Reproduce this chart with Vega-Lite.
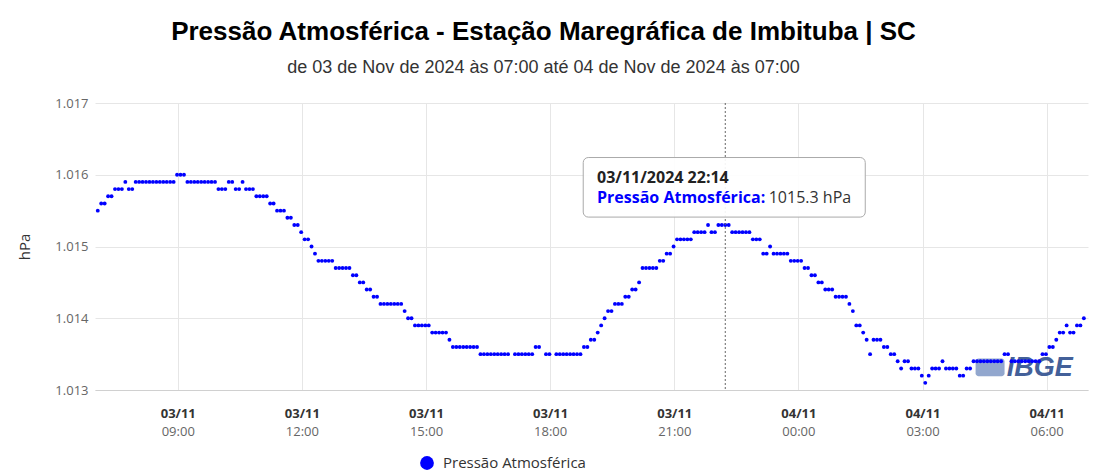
{
  "width": 993,
  "height": 287,
  "autosize": {"type": "none"},
  "padding": {"left": 95, "top": 103, "right": 25, "bottom": 85},
  "config": {"view": {"stroke": "transparent"}},
  "title": {
    "text": "Press\u00e3o Atmosf\u00e9rica - Esta\u00e7\u00e3o Maregr\u00e1fica de Imbituba | SC",
    "subtitle": "de 03 de Nov de 2024 \u00e0s 07:00 at\u00e9 04 de Nov de 2024 \u00e0s 07:00",
    "anchor": "middle",
    "frame": "group",
    "dx": -48,
    "font": "Liberation Sans",
    "fontSize": 26,
    "fontWeight": "bold",
    "color": "#000000",
    "subtitleFont": "Liberation Sans",
    "subtitleFontSize": 18,
    "subtitleColor": "#333333",
    "subtitlePadding": 14,
    "offset": 20
  },
  "data": {"values": [
    {"t":"2024-11-03T07:04Z","p":1015.5},{"t":"2024-11-03T07:09Z","p":1015.6},{"t":"2024-11-03T07:14Z","p":1015.6},{"t":"2024-11-03T07:19Z","p":1015.7},{"t":"2024-11-03T07:24Z","p":1015.7},
    {"t":"2024-11-03T07:29Z","p":1015.8},{"t":"2024-11-03T07:34Z","p":1015.8},{"t":"2024-11-03T07:39Z","p":1015.8},{"t":"2024-11-03T07:44Z","p":1015.9},{"t":"2024-11-03T07:49Z","p":1015.8},
    {"t":"2024-11-03T07:54Z","p":1015.8},{"t":"2024-11-03T07:59Z","p":1015.9},{"t":"2024-11-03T08:04Z","p":1015.9},{"t":"2024-11-03T08:09Z","p":1015.9},{"t":"2024-11-03T08:14Z","p":1015.9},
    {"t":"2024-11-03T08:19Z","p":1015.9},{"t":"2024-11-03T08:24Z","p":1015.9},{"t":"2024-11-03T08:29Z","p":1015.9},{"t":"2024-11-03T08:34Z","p":1015.9},{"t":"2024-11-03T08:39Z","p":1015.9},
    {"t":"2024-11-03T08:44Z","p":1015.9},{"t":"2024-11-03T08:49Z","p":1015.9},{"t":"2024-11-03T08:54Z","p":1015.9},{"t":"2024-11-03T08:59Z","p":1016.0},{"t":"2024-11-03T09:04Z","p":1016.0},
    {"t":"2024-11-03T09:09Z","p":1016.0},{"t":"2024-11-03T09:14Z","p":1015.9},{"t":"2024-11-03T09:19Z","p":1015.9},{"t":"2024-11-03T09:24Z","p":1015.9},{"t":"2024-11-03T09:29Z","p":1015.9},
    {"t":"2024-11-03T09:34Z","p":1015.9},{"t":"2024-11-03T09:39Z","p":1015.9},{"t":"2024-11-03T09:44Z","p":1015.9},{"t":"2024-11-03T09:49Z","p":1015.9},{"t":"2024-11-03T09:54Z","p":1015.9},
    {"t":"2024-11-03T09:59Z","p":1015.8},{"t":"2024-11-03T10:04Z","p":1015.8},{"t":"2024-11-03T10:09Z","p":1015.8},{"t":"2024-11-03T10:14Z","p":1015.9},{"t":"2024-11-03T10:19Z","p":1015.9},
    {"t":"2024-11-03T10:24Z","p":1015.8},{"t":"2024-11-03T10:29Z","p":1015.8},{"t":"2024-11-03T10:34Z","p":1015.9},{"t":"2024-11-03T10:39Z","p":1015.8},{"t":"2024-11-03T10:44Z","p":1015.8},
    {"t":"2024-11-03T10:49Z","p":1015.8},{"t":"2024-11-03T10:54Z","p":1015.7},{"t":"2024-11-03T10:59Z","p":1015.7},{"t":"2024-11-03T11:04Z","p":1015.7},{"t":"2024-11-03T11:09Z","p":1015.7},
    {"t":"2024-11-03T11:14Z","p":1015.6},{"t":"2024-11-03T11:19Z","p":1015.6},{"t":"2024-11-03T11:24Z","p":1015.5},{"t":"2024-11-03T11:29Z","p":1015.5},{"t":"2024-11-03T11:34Z","p":1015.5},
    {"t":"2024-11-03T11:39Z","p":1015.4},{"t":"2024-11-03T11:44Z","p":1015.4},{"t":"2024-11-03T11:49Z","p":1015.3},{"t":"2024-11-03T11:54Z","p":1015.3},{"t":"2024-11-03T11:59Z","p":1015.2},
    {"t":"2024-11-03T12:04Z","p":1015.1},{"t":"2024-11-03T12:09Z","p":1015.1},{"t":"2024-11-03T12:14Z","p":1015.0},{"t":"2024-11-03T12:19Z","p":1014.9},{"t":"2024-11-03T12:24Z","p":1014.8},
    {"t":"2024-11-03T12:29Z","p":1014.8},{"t":"2024-11-03T12:34Z","p":1014.8},{"t":"2024-11-03T12:39Z","p":1014.8},{"t":"2024-11-03T12:44Z","p":1014.8},{"t":"2024-11-03T12:49Z","p":1014.7},
    {"t":"2024-11-03T12:54Z","p":1014.7},{"t":"2024-11-03T12:59Z","p":1014.7},{"t":"2024-11-03T13:04Z","p":1014.7},{"t":"2024-11-03T13:09Z","p":1014.7},{"t":"2024-11-03T13:14Z","p":1014.6},
    {"t":"2024-11-03T13:19Z","p":1014.6},{"t":"2024-11-03T13:24Z","p":1014.5},{"t":"2024-11-03T13:29Z","p":1014.5},{"t":"2024-11-03T13:34Z","p":1014.4},{"t":"2024-11-03T13:39Z","p":1014.4},
    {"t":"2024-11-03T13:44Z","p":1014.3},{"t":"2024-11-03T13:49Z","p":1014.3},{"t":"2024-11-03T13:54Z","p":1014.2},{"t":"2024-11-03T13:59Z","p":1014.2},{"t":"2024-11-03T14:04Z","p":1014.2},
    {"t":"2024-11-03T14:09Z","p":1014.2},{"t":"2024-11-03T14:14Z","p":1014.2},{"t":"2024-11-03T14:19Z","p":1014.2},{"t":"2024-11-03T14:24Z","p":1014.2},{"t":"2024-11-03T14:29Z","p":1014.1},
    {"t":"2024-11-03T14:34Z","p":1014.0},{"t":"2024-11-03T14:39Z","p":1014.0},{"t":"2024-11-03T14:44Z","p":1013.9},{"t":"2024-11-03T14:49Z","p":1013.9},{"t":"2024-11-03T14:54Z","p":1013.9},
    {"t":"2024-11-03T14:59Z","p":1013.9},{"t":"2024-11-03T15:04Z","p":1013.9},{"t":"2024-11-03T15:09Z","p":1013.8},{"t":"2024-11-03T15:14Z","p":1013.8},{"t":"2024-11-03T15:19Z","p":1013.8},
    {"t":"2024-11-03T15:24Z","p":1013.8},{"t":"2024-11-03T15:29Z","p":1013.8},{"t":"2024-11-03T15:34Z","p":1013.7},{"t":"2024-11-03T15:39Z","p":1013.6},{"t":"2024-11-03T15:44Z","p":1013.6},
    {"t":"2024-11-03T15:49Z","p":1013.6},{"t":"2024-11-03T15:54Z","p":1013.6},{"t":"2024-11-03T15:59Z","p":1013.6},{"t":"2024-11-03T16:04Z","p":1013.6},{"t":"2024-11-03T16:09Z","p":1013.6},
    {"t":"2024-11-03T16:14Z","p":1013.6},{"t":"2024-11-03T16:19Z","p":1013.5},{"t":"2024-11-03T16:24Z","p":1013.5},{"t":"2024-11-03T16:29Z","p":1013.5},{"t":"2024-11-03T16:34Z","p":1013.5},
    {"t":"2024-11-03T16:39Z","p":1013.5},{"t":"2024-11-03T16:44Z","p":1013.5},{"t":"2024-11-03T16:49Z","p":1013.5},{"t":"2024-11-03T16:54Z","p":1013.5},{"t":"2024-11-03T16:59Z","p":1013.5},
    {"t":"2024-11-03T17:09Z","p":1013.5},{"t":"2024-11-03T17:14Z","p":1013.5},{"t":"2024-11-03T17:19Z","p":1013.5},{"t":"2024-11-03T17:24Z","p":1013.5},{"t":"2024-11-03T17:29Z","p":1013.5},
    {"t":"2024-11-03T17:34Z","p":1013.5},{"t":"2024-11-03T17:39Z","p":1013.6},{"t":"2024-11-03T17:44Z","p":1013.6},{"t":"2024-11-03T17:54Z","p":1013.5},{"t":"2024-11-03T17:59Z","p":1013.5},
    {"t":"2024-11-03T18:09Z","p":1013.5},{"t":"2024-11-03T18:14Z","p":1013.5},{"t":"2024-11-03T18:19Z","p":1013.5},{"t":"2024-11-03T18:24Z","p":1013.5},{"t":"2024-11-03T18:29Z","p":1013.5},
    {"t":"2024-11-03T18:34Z","p":1013.5},{"t":"2024-11-03T18:39Z","p":1013.5},{"t":"2024-11-03T18:44Z","p":1013.5},{"t":"2024-11-03T18:49Z","p":1013.6},{"t":"2024-11-03T18:54Z","p":1013.6},
    {"t":"2024-11-03T18:59Z","p":1013.7},{"t":"2024-11-03T19:04Z","p":1013.7},{"t":"2024-11-03T19:09Z","p":1013.8},{"t":"2024-11-03T19:14Z","p":1013.9},{"t":"2024-11-03T19:19Z","p":1014.0},
    {"t":"2024-11-03T19:24Z","p":1014.1},{"t":"2024-11-03T19:29Z","p":1014.1},{"t":"2024-11-03T19:34Z","p":1014.2},{"t":"2024-11-03T19:39Z","p":1014.2},{"t":"2024-11-03T19:44Z","p":1014.2},
    {"t":"2024-11-03T19:49Z","p":1014.3},{"t":"2024-11-03T19:54Z","p":1014.3},{"t":"2024-11-03T19:59Z","p":1014.4},{"t":"2024-11-03T20:04Z","p":1014.4},{"t":"2024-11-03T20:09Z","p":1014.5},
    {"t":"2024-11-03T20:14Z","p":1014.7},{"t":"2024-11-03T20:19Z","p":1014.7},{"t":"2024-11-03T20:24Z","p":1014.7},{"t":"2024-11-03T20:29Z","p":1014.7},{"t":"2024-11-03T20:34Z","p":1014.7},
    {"t":"2024-11-03T20:39Z","p":1014.8},{"t":"2024-11-03T20:44Z","p":1014.8},{"t":"2024-11-03T20:49Z","p":1014.9},{"t":"2024-11-03T20:54Z","p":1014.9},{"t":"2024-11-03T20:59Z","p":1015.0},
    {"t":"2024-11-03T21:04Z","p":1015.1},{"t":"2024-11-03T21:09Z","p":1015.1},{"t":"2024-11-03T21:14Z","p":1015.1},{"t":"2024-11-03T21:19Z","p":1015.1},{"t":"2024-11-03T21:24Z","p":1015.1},
    {"t":"2024-11-03T21:29Z","p":1015.2},{"t":"2024-11-03T21:34Z","p":1015.2},{"t":"2024-11-03T21:39Z","p":1015.2},{"t":"2024-11-03T21:44Z","p":1015.2},{"t":"2024-11-03T21:49Z","p":1015.3},
    {"t":"2024-11-03T21:54Z","p":1015.2},{"t":"2024-11-03T21:59Z","p":1015.2},{"t":"2024-11-03T22:04Z","p":1015.3},{"t":"2024-11-03T22:09Z","p":1015.3},{"t":"2024-11-03T22:14Z","p":1015.3},
    {"t":"2024-11-03T22:19Z","p":1015.3},{"t":"2024-11-03T22:24Z","p":1015.2},{"t":"2024-11-03T22:29Z","p":1015.2},{"t":"2024-11-03T22:34Z","p":1015.2},{"t":"2024-11-03T22:39Z","p":1015.2},
    {"t":"2024-11-03T22:44Z","p":1015.2},{"t":"2024-11-03T22:49Z","p":1015.2},{"t":"2024-11-03T22:54Z","p":1015.1},{"t":"2024-11-03T22:59Z","p":1015.1},{"t":"2024-11-03T23:04Z","p":1015.1},
    {"t":"2024-11-03T23:09Z","p":1014.9},{"t":"2024-11-03T23:14Z","p":1014.9},{"t":"2024-11-03T23:19Z","p":1015.0},{"t":"2024-11-03T23:24Z","p":1014.9},{"t":"2024-11-03T23:29Z","p":1014.9},
    {"t":"2024-11-03T23:34Z","p":1014.9},{"t":"2024-11-03T23:39Z","p":1014.9},{"t":"2024-11-03T23:44Z","p":1014.9},{"t":"2024-11-03T23:49Z","p":1014.8},{"t":"2024-11-03T23:54Z","p":1014.8},
    {"t":"2024-11-03T23:59Z","p":1014.8},{"t":"2024-11-04T00:04Z","p":1014.8},{"t":"2024-11-04T00:09Z","p":1014.7},{"t":"2024-11-04T00:14Z","p":1014.7},{"t":"2024-11-04T00:19Z","p":1014.6},
    {"t":"2024-11-04T00:24Z","p":1014.6},{"t":"2024-11-04T00:29Z","p":1014.5},{"t":"2024-11-04T00:34Z","p":1014.5},{"t":"2024-11-04T00:39Z","p":1014.4},{"t":"2024-11-04T00:44Z","p":1014.4},
    {"t":"2024-11-04T00:49Z","p":1014.4},{"t":"2024-11-04T00:54Z","p":1014.3},{"t":"2024-11-04T00:59Z","p":1014.3},{"t":"2024-11-04T01:04Z","p":1014.3},{"t":"2024-11-04T01:09Z","p":1014.3},
    {"t":"2024-11-04T01:14Z","p":1014.2},{"t":"2024-11-04T01:19Z","p":1014.1},{"t":"2024-11-04T01:24Z","p":1013.9},{"t":"2024-11-04T01:29Z","p":1013.9},{"t":"2024-11-04T01:34Z","p":1013.8},
    {"t":"2024-11-04T01:39Z","p":1013.7},{"t":"2024-11-04T01:44Z","p":1013.5},{"t":"2024-11-04T01:49Z","p":1013.7},{"t":"2024-11-04T01:54Z","p":1013.7},{"t":"2024-11-04T01:59Z","p":1013.7},
    {"t":"2024-11-04T02:04Z","p":1013.6},{"t":"2024-11-04T02:09Z","p":1013.6},{"t":"2024-11-04T02:14Z","p":1013.5},{"t":"2024-11-04T02:19Z","p":1013.5},{"t":"2024-11-04T02:24Z","p":1013.4},
    {"t":"2024-11-04T02:29Z","p":1013.3},{"t":"2024-11-04T02:34Z","p":1013.4},{"t":"2024-11-04T02:39Z","p":1013.4},{"t":"2024-11-04T02:44Z","p":1013.3},{"t":"2024-11-04T02:49Z","p":1013.3},
    {"t":"2024-11-04T02:54Z","p":1013.3},{"t":"2024-11-04T02:59Z","p":1013.2},{"t":"2024-11-04T03:04Z","p":1013.1},{"t":"2024-11-04T03:09Z","p":1013.2},{"t":"2024-11-04T03:14Z","p":1013.3},
    {"t":"2024-11-04T03:19Z","p":1013.3},{"t":"2024-11-04T03:24Z","p":1013.3},{"t":"2024-11-04T03:29Z","p":1013.4},{"t":"2024-11-04T03:34Z","p":1013.3},{"t":"2024-11-04T03:39Z","p":1013.3},
    {"t":"2024-11-04T03:44Z","p":1013.3},{"t":"2024-11-04T03:49Z","p":1013.3},{"t":"2024-11-04T03:54Z","p":1013.2},{"t":"2024-11-04T03:59Z","p":1013.2},{"t":"2024-11-04T04:04Z","p":1013.3},
    {"t":"2024-11-04T04:09Z","p":1013.3},{"t":"2024-11-04T04:14Z","p":1013.4},{"t":"2024-11-04T04:19Z","p":1013.4},{"t":"2024-11-04T04:24Z","p":1013.4},{"t":"2024-11-04T04:29Z","p":1013.4},
    {"t":"2024-11-04T04:34Z","p":1013.4},{"t":"2024-11-04T04:39Z","p":1013.4},{"t":"2024-11-04T04:44Z","p":1013.4},{"t":"2024-11-04T04:49Z","p":1013.4},{"t":"2024-11-04T04:54Z","p":1013.4},
    {"t":"2024-11-04T04:59Z","p":1013.5},{"t":"2024-11-04T05:04Z","p":1013.5},{"t":"2024-11-04T05:09Z","p":1013.4},{"t":"2024-11-04T05:14Z","p":1013.4},{"t":"2024-11-04T05:19Z","p":1013.4},
    {"t":"2024-11-04T05:24Z","p":1013.4},{"t":"2024-11-04T05:29Z","p":1013.4},{"t":"2024-11-04T05:34Z","p":1013.4},{"t":"2024-11-04T05:39Z","p":1013.4},{"t":"2024-11-04T05:44Z","p":1013.4},
    {"t":"2024-11-04T05:49Z","p":1013.4},{"t":"2024-11-04T05:54Z","p":1013.5},{"t":"2024-11-04T05:59Z","p":1013.5},{"t":"2024-11-04T06:04Z","p":1013.6},{"t":"2024-11-04T06:09Z","p":1013.6},
    {"t":"2024-11-04T06:14Z","p":1013.7},{"t":"2024-11-04T06:19Z","p":1013.8},{"t":"2024-11-04T06:24Z","p":1013.8},{"t":"2024-11-04T06:29Z","p":1013.9},{"t":"2024-11-04T06:34Z","p":1013.8},
    {"t":"2024-11-04T06:39Z","p":1013.8},{"t":"2024-11-04T06:44Z","p":1013.9},{"t":"2024-11-04T06:49Z","p":1013.9},{"t":"2024-11-04T06:54Z","p":1014.0}
  ]},
  "resolve": {"axis": {"x": "independent"}},
  "layer": [
    {
      "data": {"values": [{}]},
      "mark": {"type": "rect", "color": "#7f98c6", "cornerRadius": 3, "opacity": 0.85},
      "encoding": {
        "x": {"datum": 1730693820000, "type": "temporal", "axis": null},
        "x2": {"datum": 1730696340000},
        "y": {"datum": 1013.44, "type": "quantitative"},
        "y2": {"datum": 1013.19}
      }
    },
    {
      "data": {"values": [{}]},
      "mark": {"type": "text", "text": "IBGE", "font": "Liberation Sans", "fontSize": 27, "fontWeight": "bold", "fontStyle": "italic", "color": "#2f4f8f", "align": "center", "baseline": "middle", "opacity": 0.9},
      "encoding": {
        "x": {"datum": 1730699400000, "type": "temporal", "axis": null},
        "y": {"datum": 1013.30, "type": "quantitative"}
      }
    },
    {
      "mark": {"type": "point", "filled": true, "size": 15, "opacity": 1},
      "encoding": {
        "x": {
          "field": "t", "type": "temporal",
          "scale": {"type": "utc", "domain": [1730617200000, 1730703600000]},
          "axis": {"orient": "bottom", "title": null, "values": [1730624400000, 1730635200000, 1730646000000, 1730656800000, 1730667600000, 1730678400000, 1730689200000, 1730700000000], "labelExpr": "utchours(datum.value) >= 9 ? \"03/11\" : \"04/11\"", "labelFont": "Open Sans", "labelFontSize": 13, "labelFontWeight": "bold", "labelColor": "#333333", "labelPadding": 17, "ticks": false, "grid": true, "gridColor": "#e6e6e6", "domainColor": "#d0d0d0", "labelFlush": false, "labelOverlap": false}
        },
        "y": {
          "field": "p", "type": "quantitative",
          "scale": {"domain": [1013, 1017], "nice": false, "zero": false},
          "axis": {"title": "hPa", "values": [1013, 1014, 1015, 1016, 1017], "labelExpr": "\"1.0\" + (datum.value - 1000)", "labelFont": "Open Sans", "labelFontSize": 13, "labelColor": "#666666", "ticks": false, "domain": false, "grid": true, "gridColor": "#e6e6e6", "labelPadding": 7, "titleFont": "Open Sans", "titleFontSize": 15, "titleFontWeight": "normal", "titleColor": "#333333", "titlePadding": 22}
        },
        "color": {
          "datum": "Press\u00e3o Atmosf\u00e9rica", "type": "nominal",
          "scale": {"range": ["#0000ff"]},
          "legend": {"title": null, "orient": "none", "legendX": 324, "legendY": 352, "symbolType": "circle", "symbolSize": 190, "labelFont": "Open Sans", "labelFontSize": 15, "labelColor": "#333333", "labelOffset": 8}
        }
      }
    },
    {
      "mark": {"type": "point", "filled": true, "size": 15, "opacity": 0},
      "encoding": {
        "x": {
          "field": "t", "type": "temporal",
          "axis": {"orient": "bottom", "title": null, "values": [1730624400000, 1730635200000, 1730646000000, 1730656800000, 1730667600000, 1730678400000, 1730689200000, 1730700000000], "labelExpr": "(utchours(datum.value) < 10 ? \"0\" : \"\") + utchours(datum.value) + \":00\"", "labelFont": "Open Sans", "labelFontSize": 13, "labelColor": "#666666", "labelPadding": 35, "ticks": false, "grid": false, "domain": false, "labelFlush": false, "labelOverlap": false}
        },
        "y": {"field": "p", "type": "quantitative"}
      }
    },
    {
      "data": {"values": [{}]},
      "mark": {"type": "rule", "color": "#666666", "strokeDash": [2, 2], "strokeWidth": 1},
      "encoding": {
        "x": {"datum": 1730672040000, "type": "temporal", "axis": null}
      }
    },
    {
      "data": {"values": [{}]},
      "mark": {"type": "rect", "fill": "#ffffff", "fillOpacity": 0.92, "stroke": "#aaaaaa", "strokeWidth": 1, "cornerRadius": 5},
      "encoding": {
        "x": {"datum": 1730659680000, "type": "temporal", "axis": null},
        "x2": {"datum": 1730684220000},
        "y": {"datum": 1016.24, "type": "quantitative"},
        "y2": {"datum": 1015.41}
      }
    },
    {
      "data": {"values": [{}]},
      "mark": {"type": "text", "text": "03/11/2024 22:14", "font": "Open Sans", "fontSize": 16, "fontWeight": "bold", "color": "#222222", "align": "left", "baseline": "alphabetic"},
      "encoding": {
        "x": {"datum": 1730660880000, "type": "temporal", "axis": null},
        "y": {"datum": 1015.88, "type": "quantitative"}
      }
    },
    {
      "data": {"values": [{}]},
      "mark": {"type": "text", "text": "Press\u00e3o Atmosf\u00e9rica:", "font": "Open Sans", "fontSize": 16, "fontWeight": "bold", "color": "#0000ff", "align": "left", "baseline": "alphabetic"},
      "encoding": {
        "x": {"datum": 1730660880000, "type": "temporal", "axis": null},
        "y": {"datum": 1015.60, "type": "quantitative"}
      }
    },
    {
      "data": {"values": [{}]},
      "mark": {"type": "text", "text": "1015.3 hPa", "font": "Open Sans", "fontSize": 16, "color": "#333333", "align": "left", "baseline": "alphabetic"},
      "encoding": {
        "x": {"datum": 1730675820000, "type": "temporal", "axis": null},
        "y": {"datum": 1015.60, "type": "quantitative"}
      }
    }
  ]
}
